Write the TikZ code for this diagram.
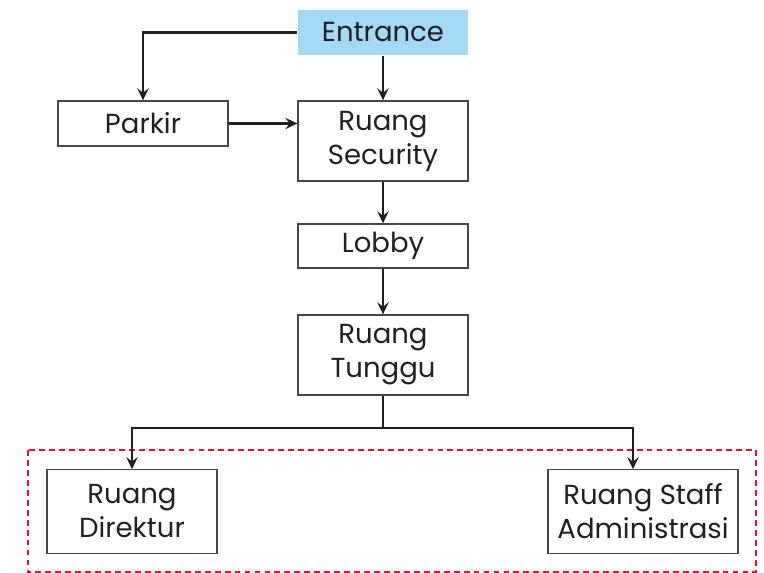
\documentclass[tikz,border=0pt]{standalone}
\usepackage{fontspec}
\setmainfont{Poppins}
\usetikzlibrary{arrows.meta,positioning,calc}
\definecolor{Ink}{HTML}{231F20}
\definecolor{BoxLine}{HTML}{4A4546}
\definecolor{SkyFill}{HTML}{A3D9F3}
\definecolor{DashRed}{HTML}{E8112D}
\tikzset{
  room/.style={draw=BoxLine, line width=1.1pt, fill=white, minimum width=5.1cm, align=center, inner sep=0pt, font=\fontsize{23.5}{29}\selectfont, text=Ink},
  entry/.style={room, draw=none, fill=SkyFill},
  arr/.style={-{Stealth[length=3.6mm,width=3.4mm,inset=1.3mm]}, line width=2pt, draw=Ink}
}
\begin{document}
\begin{tikzpicture}[x=.03cm,y=-.03cm]
\useasboundingbox (0,0) rectangle (764,573);
% zona kantor
\draw[DashRed, line width=2pt, dash pattern=on 5pt off 3.5pt] (28,450) rectangle (756,572);
\node[entry, minimum height=1.35cm] (entrance) at (383,32.5) {Entrance};
\node[room, minimum height=1.35cm] (parkir) at (143,123.5) {Parkir};
\node[room, minimum height=2.4cm] (security) at (383,141) {Ruang\\Security};
\node[room, minimum height=1.32cm] (lobby) at (383,246) {Lobby};
\node[room, minimum height=2.4cm] (tunggu) at (383,355) {Ruang\\Tunggu};
\node[room, minimum height=2.5cm] (direktur) at (132,511.5) {Ruang\\Direktur};
\node[room, minimum width=5.7cm, minimum height=2.5cm] (staff) at (643,511.5) {Ruang Staff\\Administrasi};
\coordinate (split) at (383,428);
\draw[arr] (entrance.west) -| (parkir.north);
\draw[arr] (entrance) -- (security);
\draw[arr] (parkir.east) -- (parkir.east -| security.west);
\draw[arr] (security) -- (lobby);
\draw[arr] (lobby) -- (tunggu);
\draw[arr] (tunggu.south) -- (split) -| (direktur.north);
\draw[arr] (split) -| ([xshift=-.3cm]staff.north);
\end{tikzpicture}
\end{document}
